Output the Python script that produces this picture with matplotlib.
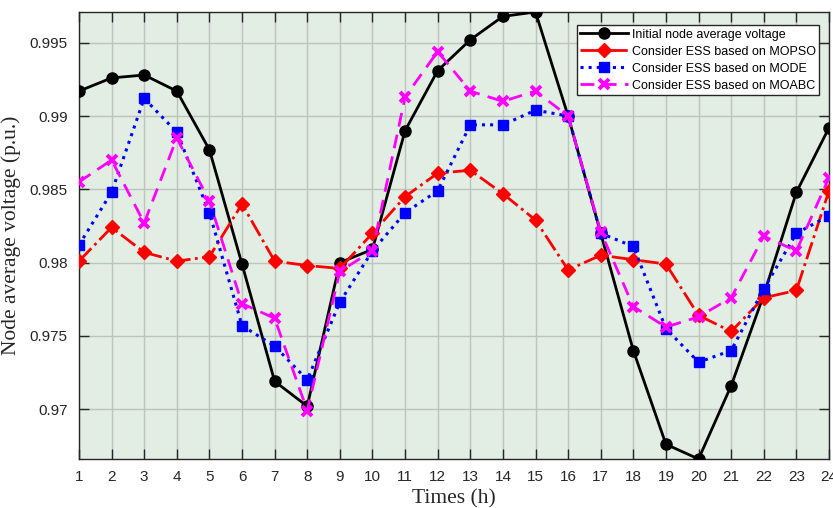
import numpy as np
import matplotlib.pyplot as plt
from matplotlib.ticker import FixedLocator, FuncFormatter

# Hours
hours = list(range(1, 25))

# Node average voltage (p.u.)
initial = [0.9917, 0.9926, 0.9928, 0.9917, 0.9877, 0.9799, 0.9719, 0.9702,
           0.9800, 0.9809, 0.9890, 0.9931, 0.9952, 0.9968, 0.9971, 0.9900,
           0.9820, 0.9740, 0.9676, 0.9666, 0.9716, 0.9778, 0.9848, 0.9892]
mopso = [0.9801, 0.9824, 0.9807, 0.9801, 0.9804, 0.9840, 0.9801, 0.9798,
         0.9796, 0.9820, 0.9845, 0.9861, 0.9863, 0.9847, 0.9829, 0.9795,
         0.9805, 0.9802, 0.9799, 0.9764, 0.9753, 0.9776, 0.9781, 0.9849]
mode = [0.9812, 0.9848, 0.9912, 0.9889, 0.9834, 0.9757, 0.9743, 0.9720,
        0.9773, 0.9808, 0.9834, 0.9849, 0.9894, 0.9894, 0.9904, 0.9900,
        0.9820, 0.9811, 0.9755, 0.9732, 0.9740, 0.9782, 0.9820, 0.9832]
moabc = [0.9855, 0.9870, 0.9827, 0.9885, 0.9842, 0.9772, 0.9762, 0.9699,
         0.9794, 0.9808, 0.9913, 0.9944, 0.9917, 0.9910, 0.9917, 0.9900,
         0.9821, 0.9770, 0.9756, 0.9763, 0.9776, 0.9818, 0.9808, 0.9858]

y_ticks = [0.97, 0.975, 0.98, 0.985, 0.99, 0.995]

fig = plt.figure(figsize=(8.33, 5.08), dpi=100)
ax = fig.add_axes([0.0948, 0.0965, 0.9004, 0.8799])
ax.set_facecolor("#e2ede3")

ax.plot(hours, initial, color="black", ls="-", lw=2.0, marker="o", ms=8,
        label="Initial node average voltage", zorder=3)
ax.plot(hours, mopso, color="red", ls="-.", lw=2.0, marker="D", ms=7.5,
        label="Consider ESS based on MOPSO", zorder=4)
ax.plot(hours, mode, color="blue", ls=":", lw=2.2, marker="s", ms=7,
        label="Consider ESS based on MODE", zorder=5)
ax.plot(hours, moabc, color="magenta", ls=(0, (5, 3)), lw=2.0, marker="x",
        ms=7.5, mew=2.8, label="Consider ESS based on MOABC", zorder=6)

ax.set_xlim(1, 24)
ax.set_ylim(min(initial), max(initial))
ax.xaxis.set_major_locator(FixedLocator(hours))
ax.yaxis.set_major_locator(FixedLocator(y_ticks))
ax.yaxis.set_major_formatter(FuncFormatter(lambda v, p: f"{v:g}"))

ax.grid(True, color="#bcc4bc", lw=1.0)
ax.set_axisbelow(True)
ax.tick_params(direction="in", length=7, width=1, top=True, right=True,
               labelsize=11, colors="#262626", pad=8)
for lab in ax.get_xticklabels() + ax.get_yticklabels():
    lab.set_fontfamily("Liberation Sans")
for sp in ax.spines.values():
    sp.set_color("#262626")
    sp.set_linewidth(1.0)

ax.set_xlabel("Times (h)", fontfamily="Liberation Serif", fontsize=15.5,
              color="#262626", labelpad=4)
ax.set_ylabel("Node average voltage (p.u.)", fontfamily="Liberation Serif",
              fontsize=15.5, color="#262626", labelpad=6)

leg = ax.legend(loc="upper right", bbox_to_anchor=(0.987, 0.971),
                borderaxespad=0, prop={"family": "Liberation Sans", "size": 9},
                fancybox=False, framealpha=1, edgecolor="#262626",
                handlelength=3.8, borderpad=0.3, labelspacing=0.4,
                handletextpad=0.3)
leg.get_frame().set_linewidth(1.0)
leg.set_zorder(10)

fig.savefig("out.png", dpi=100)
